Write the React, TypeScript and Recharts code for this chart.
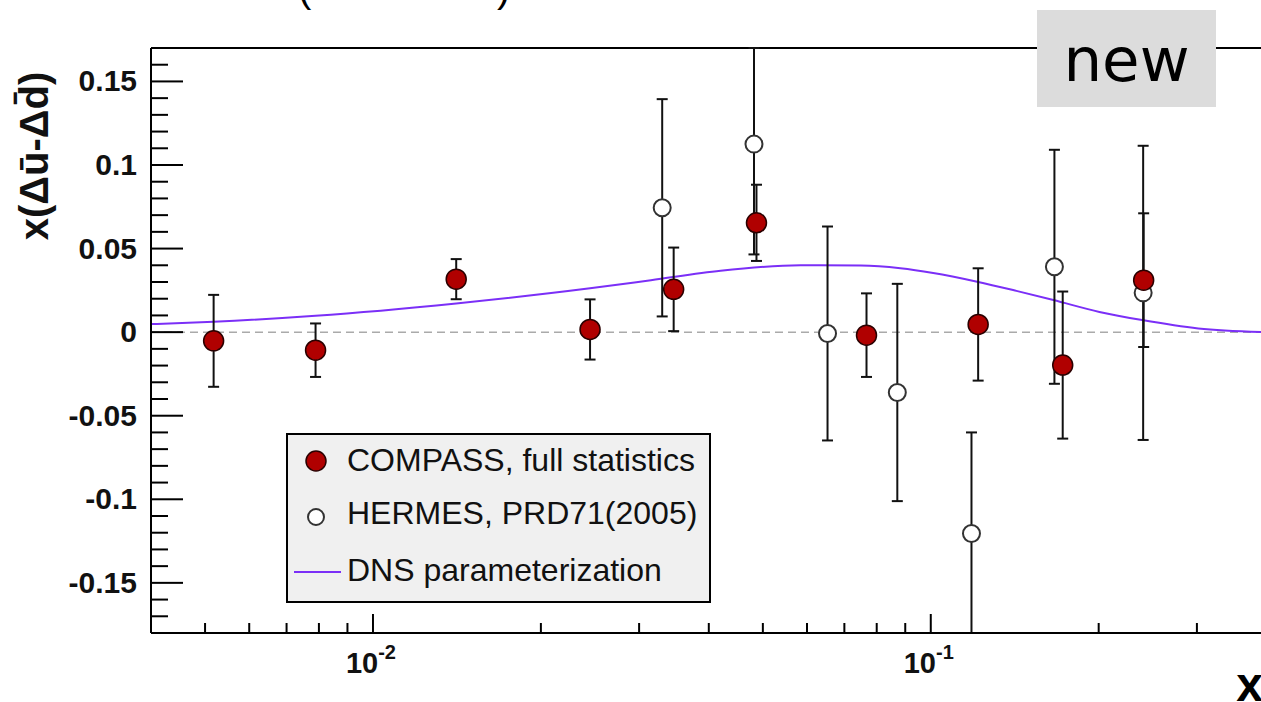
import React from 'react';
import { ComposedChart, XAxis, YAxis, Scatter, Line, ErrorBar, ReferenceLine, Legend } from 'recharts';

// COMPASS, full statistics
const compassX = [0.00518, 0.00789, 0.0141, 0.0245, 0.0346, 0.0487, 0.0767, 0.1216, 0.1724, 0.2408];
const compassY = [-0.0052, -0.0108, 0.0317, 0.0016, 0.0256, 0.0654, -0.0018, 0.0046, -0.0197, 0.0311];
const compassErr = [0.0275, 0.016, 0.012, 0.018, 0.025, 0.0228, 0.025, 0.0336, 0.044, 0.04];

// HERMES, PRD71(2005)
const hermesX = [0.033, 0.0482, 0.0653, 0.0871, 0.1183, 0.1666, 0.2403];
const hermesY = [0.0744, 0.1125, -0.0008, -0.0361, -0.1205, 0.0391, 0.0235];
const hermesErr = [0.065, 0.066, 0.064, 0.065, 0.0605, 0.07, 0.088];

// DNS parameterization
const dnsX = [0.004, 0.00518, 0.00789, 0.0141, 0.0245, 0.0315, 0.042, 0.0584, 0.0749, 0.0882, 0.101, 0.1211, 0.1424, 0.1659, 0.2006, 0.2393, 0.3017, 0.4];
const dnsY = [0.0048, 0.0062, 0.0098, 0.0172, 0.0262, 0.0311, 0.0368, 0.0400, 0.0398, 0.0382, 0.0354, 0.0302, 0.0247, 0.0192, 0.0121, 0.0072, 0.0022, 0.0];

// axes
const xDomain = [0.004, 0.4];
const yDomain = [-0.18, 0.17];
const xTicks = [0.005, 0.006, 0.007, 0.008, 0.009, 0.01, 0.02, 0.03, 0.04, 0.05, 0.06, 0.07, 0.08, 0.09, 0.1, 0.2, 0.3, 0.4];
const xMajorTicks = [0.01, 0.1];
const xMajorExp = ['-2', '-1'];
const yTicks = [-0.18, -0.17, -0.16, -0.15, -0.14, -0.13, -0.12, -0.11, -0.1, -0.09, -0.08, -0.07, -0.06, -0.05, -0.04, -0.03, -0.02, -0.01, 0,
  0.01, 0.02, 0.03, 0.04, 0.05, 0.06, 0.07, 0.08, 0.09, 0.1, 0.11, 0.12, 0.13, 0.14, 0.15, 0.16, 0.17];
const yMajorTicks = [-0.15, -0.1, -0.05, 0, 0.05, 0.1, 0.15];
const yMajorLabels = ['-0.15', '-0.1', '-0.05', '0', '0.05', '0.1', '0.15'];

const seriesNames = ['COMPASS, full statistics', 'HERMES, PRD71(2005)', 'DNS parameterization'];

// error bars are cut at the frame, as in the reference
const clipErr = (y: number, e: number) => [Math.min(e, y - yDomain[0]), Math.min(e, yDomain[1] - y)];

const compassData = compassX.map((x, i) => ({ x, y: compassY[i], e: clipErr(compassY[i], compassErr[i]) }));
const hermesData = hermesX.map((x, i) => ({ x, y: hermesY[i], e: clipErr(hermesY[i], hermesErr[i]) }));
const dnsData = dnsX.map((x, i) => ({ x, y: dnsY[i] }));

const FONT = '"Liberation Sans", Arial, Helvetica, sans-serif';
const RED = '#b00000';
const PURPLE = '#7b2ff7';

const near = (a: number, b: number) => Math.abs(a - b) < 1e-9;

const XTick = (props: any) => {
  const { x, payload } = props;
  const y = 633;
  const v = payload.value;
  const mi = xMajorTicks.findIndex((m) => near(m, v));
  const len = mi >= 0 ? 19 : 10;
  return (
    <g>
      <line x1={x} x2={x} y1={y} y2={y - len} stroke="#000" strokeWidth={2} />
      {mi >= 0 && (
        <text x={x - 2} y={673} textAnchor="middle" fontFamily={FONT} fontWeight="bold" fontSize={29} fill="#111">
          <tspan>10</tspan>
          <tspan dy={-14} fontSize={20}>{xMajorExp[mi]}</tspan>
        </text>
      )}
    </g>
  );
};

const YTick = (props: any) => {
  const { y, payload } = props;
  const x = 151;
  const v = payload.value;
  const mi = yMajorTicks.findIndex((m) => near(m, v));
  const len = mi >= 0 ? 32 : 17;
  return (
    <g>
      <line x1={x} x2={x + len} y1={y} y2={y} stroke="#000" strokeWidth={2} />
      {mi >= 0 && (
        <text x={x - 14} y={y + 10} textAnchor="end" fontFamily={FONT} fontWeight="bold" fontSize={30} fill="#111">
          {yMajorLabels[mi]}
        </text>
      )}
    </g>
  );
};

const RedDot = (p: any) => <circle cx={p.cx} cy={p.cy} r={10} fill={RED} stroke="#2a0000" strokeWidth={1.5} />;
const OpenDot = (p: any) => <circle cx={p.cx} cy={p.cy} r={8.5} fill="#fff" stroke="#333" strokeWidth={2} />;

const LegendBox = () => (
  <svg width={426} height={172} style={{ display: 'block' }}>
    <rect x={1} y={1} width={423} height={168} fill="#f0f0f0" stroke="#000" strokeWidth={2} />
    <circle cx={30} cy={28} r={10} fill={RED} stroke="#2a0000" strokeWidth={1.5} />
    <circle cx={30} cy={84} r={8} fill="#fff" stroke="#333" strokeWidth={2} />
    <line x1={8} x2={55} y1={139} y2={139} stroke={PURPLE} strokeWidth={2} />
    <text x={61} y={38} fontFamily={FONT} fontSize={32} fill="#111">{seriesNames[0]}</text>
    <text x={61} y={91} fontFamily={FONT} fontSize={32} fill="#111">{seriesNames[1]}</text>
    <text x={61} y={148} fontFamily={FONT} fontSize={32} fill="#111">{seriesNames[2]}</text>
  </svg>
);

export default function App() {
  return (
    <div style={{ position: 'fixed', left: 0, top: 0, width: 1261, height: 702, overflow: 'hidden', background: '#fff' }}>
      <div style={{ position: 'absolute', left: 0, top: 0 }}>
        <ComposedChart width={1300} height={702} margin={{ top: 48, left: 150, right: 33.4, bottom: 68 }}>
          <XAxis
            dataKey="x"
            type="number"
            scale="log"
            domain={xDomain}
            allowDataOverflow
            ticks={xTicks}
            interval={0}
            tickSize={0}
            tickMargin={0}
            tickLine={false}
            tick={XTick}
            height={1}
            axisLine={{ stroke: '#000', strokeWidth: 2 }}
            label={{
              content: () => (
                <text x={1263} y={701} textAnchor="end" fontFamily={FONT} fontWeight="bold" fontSize={48} fill="#000">x</text>
              ),
            }}
          />
          <YAxis
            dataKey="y"
            type="number"
            domain={yDomain}
            allowDataOverflow
            ticks={yTicks}
            interval={0}
            tickSize={0}
            tickMargin={0}
            tickLine={false}
            tick={YTick}
            width={1}
            axisLine={{ stroke: '#000', strokeWidth: 2 }}
            label={{
              content: () => (
                <text transform="rotate(-90)" x={-156} y={48} textAnchor="middle" fontFamily={FONT} fontWeight="bold" fontSize={40} fill="#111">
                  x(Δū-Δd̄)
                </text>
              ),
            }}
          />
          <ReferenceLine y={0} stroke="#aaa" strokeWidth={1.5} strokeDasharray="8 5" />
          <ReferenceLine y={0.17} stroke="#000" strokeWidth={2} />
          <Line data={dnsData} dataKey="y" type="monotone" stroke={PURPLE} strokeWidth={2} dot={false} isAnimationActive={false} />
          <Scatter data={hermesData} dataKey="y" shape={OpenDot} isAnimationActive={false}>
            <ErrorBar dataKey="e" direction="y" width={5.5} stroke="#111" strokeWidth={2} isAnimationActive={false} />
          </Scatter>
          <Scatter data={compassData} dataKey="y" shape={RedDot} isAnimationActive={false}>
            <ErrorBar dataKey="e" direction="y" width={5.5} stroke="#111" strokeWidth={2} isAnimationActive={false} />
          </Scatter>
          <Legend
            layout="vertical"
            align="center"
            verticalAlign="middle"
            content={() => <LegendBox />}
            wrapperStyle={{ position: 'absolute', left: 286, top: 433, width: 426, height: 172 }}
          />
        </ComposedChart>
      </div>
      <div style={{ position: 'absolute', left: 1037, top: 10, width: 179, height: 97, background: '#dcdcdc' }} />
      <div style={{ position: 'absolute', left: 1037, top: 10, width: 179, height: 97, textAlign: 'center', fontFamily: '"DejaVu Sans", Verdana, sans-serif', fontSize: 61, lineHeight: '100px', color: '#000' }}>new</div>
      <div style={{ position: 'absolute', left: 298, top: -36, fontFamily: FONT, fontSize: 40, lineHeight: '48px', color: '#000' }}>(</div>
      <div style={{ position: 'absolute', left: 497, top: -36, fontFamily: FONT, fontSize: 40, lineHeight: '48px', color: '#000' }}>)</div>
    </div>
  );
}
